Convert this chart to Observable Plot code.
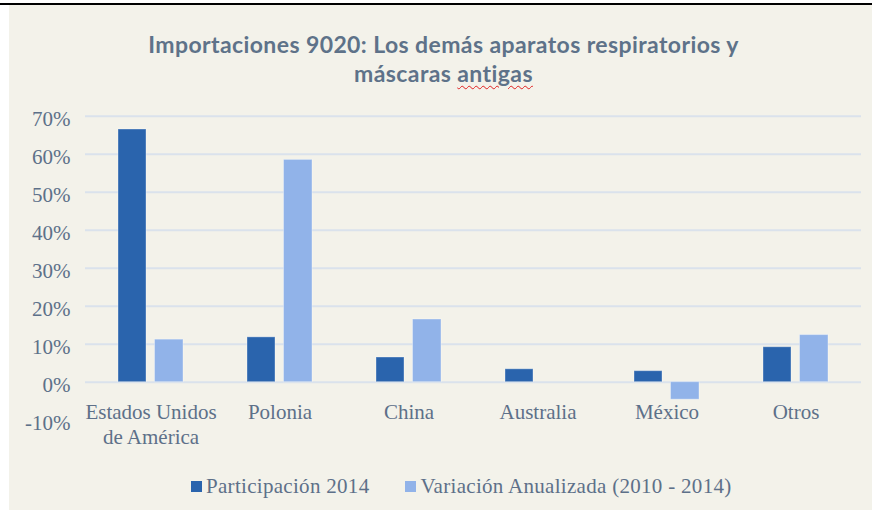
<!DOCTYPE html>
<html>
<head>
<meta charset="utf-8">
<script src="https://cdn.jsdelivr.net/npm/d3@7"></script>
<script src="https://cdn.jsdelivr.net/npm/@observablehq/plot@0.6"></script>
<style>
  html, body { margin: 0; padding: 0; background: #ffffff; }
  #page { position: relative; width: 872px; height: 510px; overflow: hidden; }
  #bg { position: absolute; left: 9px; top: 5px; width: 863px; height: 505px; background: #f3f2ea; }
  #topline { position: absolute; left: 0; top: 3px; width: 872px; height: 2px; background: #000; }
  #title { position: absolute; left: 12px; width: 863px; top: 30px; text-align: center;
    font-family: Lato, "Open Sans", sans-serif; font-weight: bold; font-size: 23px; line-height: 29px;
    letter-spacing: 0.4px; color: #5e7289; margin: 0; }
  #title .sp { text-decoration: underline wavy #e02020; text-decoration-thickness: 1px; text-underline-offset: 3px; }
  #chart { position: absolute; left: 0; top: 100px; }
  #legend { position: absolute; top: 474px; left: 191px; font-family: "Liberation Serif", "Times New Roman", serif;
    font-size: 21px; color: #5d7089; display: flex; align-items: center; white-space: nowrap; letter-spacing: 0.3px; }
  #legend .sw { width: 11px; height: 11px; display: inline-block; margin-right: 4px; }
  #legend .item { display: flex; align-items: center; }
</style>
</head>
<body>
<div id="page">
  <div id="bg"></div>
  <div id="topline"></div>
  <div id="title">Importaciones 9020: Los demás aparatos respiratorios y<br>máscaras <span class="sp">antigas</span></div>
  <div id="chart"></div>
  <div id="legend"></div>
</div>
<script>
const countries = ["Estados Unidos de América", "Polonia", "China", "Australia", "México", "Otros"];
const countryLabels = ["Estados Unidos\nde América", "Polonia", "China", "Australia", "México", "Otros"];
const participacion2014 = [0.665, 0.118, 0.065, 0.034, 0.029, 0.092];
const variacionAnualizada = [0.112, 0.585, 0.165, 0, -0.046, 0.124];
const seriesNames = ["Participación 2014", "Variación Anualizada (2010 - 2014)"];
const seriesColors = ["#2a64ad", "#91b3e9"];
const yTicks = [-0.1, 0, 0.1, 0.2, 0.3, 0.4, 0.5, 0.6, 0.7];
const gridTicks = [0, 0.1, 0.2, 0.3, 0.4, 0.5, 0.6, 0.7];

const rowsP = countries.map((c, i) => ({country: c, value: participacion2014[i]}));
const rowsV = countries.map((c, i) => ({country: c, value: variacionAnualizada[i]})).filter(d => d.value !== 0);
const labelRows = countries.map((c, i) => ({country: c, label: countryLabels[i]}));

const textColor = "#5d7089";
const serif = "'Liberation Serif', 'Times New Roman', serif";

const plot = Plot.plot({
  width: 872,
  height: 345,
  marginLeft: 85,
  marginRight: 11,
  marginTop: 15.7,
  marginBottom: 25.3,
  style: { background: "transparent", fontFamily: serif, fontSize: "21px", color: textColor, overflow: "visible" },
  x: { domain: countries, padding: 0, axis: null },
  y: { domain: [-0.1, 0.7] },
  marks: [
    Plot.ruleY(gridTicks, { stroke: "#dae2ec", strokeWidth: 2 }),
    Plot.barY(rowsP, { x: "country", y: "value", fill: seriesColors[0], insetLeft: 32, insetRight: 69,
      stroke: "#ffffff", strokeOpacity: 0.35, strokeWidth: 1 }),
    Plot.barY(rowsV, { x: "country", y: "value", fill: seriesColors[1], insetLeft: 68.5, insetRight: 32,
      stroke: "#ffffff", strokeOpacity: 0.35, strokeWidth: 1 }),
    Plot.axisY({ ticks: yTicks, tickSize: 0, tickPadding: 15, dy: 3,
      tickFormat: d => Math.round(d * 100) + "%", fontSize: 21, fill: textColor, label: null }),
    Plot.text(labelRows, { x: "country", text: "label", frameAnchor: "bottom", lineAnchor: "top",
      dy: -19, lineHeight: 1.2, fontSize: 21, fill: textColor, fontFamily: serif })
  ]
});
document.getElementById("chart").appendChild(plot);

const legend = document.getElementById("legend");
seriesNames.forEach((name, i) => {
  const item = document.createElement("div");
  item.className = "item";
  if (i > 0) item.style.marginLeft = "36px";
  const sw = document.createElement("span");
  sw.className = "sw";
  sw.style.background = seriesColors[i];
  const t = document.createElement("span");
  t.textContent = name;
  item.appendChild(sw);
  item.appendChild(t);
  legend.appendChild(item);
});
</script>
</body>
</html>
